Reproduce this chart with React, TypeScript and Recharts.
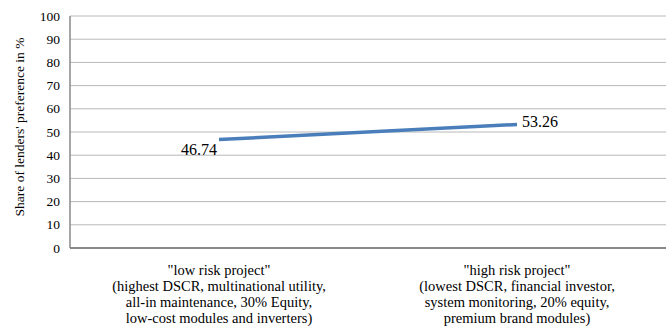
import React from 'react';
import { LineChart, Line, XAxis, YAxis, CartesianGrid, LabelList } from 'recharts';

const categories = ['low', 'high'];
const shares = [46.74, 53.26];
const categoryLines = [
  ['"low risk project"', '(highest DSCR, multinational utility,', 'all-in maintenance, 30% Equity,', 'low-cost modules and inverters)'],
  ['"high risk project"', '(lowest DSCR, financial investor,', 'system monitoring, 20% equity,', 'premium brand modules)'],
];
const yTicks = [0, 10, 20, 30, 40, 50, 60, 70, 80, 90, 100];
const yTitle = "Share of lenders' preference in %";

const data = categories.map((c, i) => ({ category: c, share: shares[i] }));

const FONT = "'Liberation Serif', 'Times New Roman', Times, serif";
const textStyle = { fontFamily: FONT };

const CategoryTick = (props: any) => {
  const { x, y, index } = props;
  const lines = categoryLines[index] || [];
  return (
    <text x={x} y={y} textAnchor="middle" style={textStyle} fontSize={14.5} fill="#000">
      {lines.map((l, i) => (
        <tspan key={i} x={x} y={y + 27 + i * 16}>{l}</tspan>
      ))}
    </text>
  );
};

const ValueLabel = (props: any) => {
  const { x, y, value, index } = props;
  if (index === 0) {
    return (
      <text x={x - 2} y={y + 15.5} textAnchor="end" style={textStyle} fontSize={16} fill="#000">
        {value}
      </text>
    );
  }
  return (
    <text x={x + 5} y={y + 3} textAnchor="start" style={textStyle} fontSize={16} fill="#000">
      {value}
    </text>
  );
};

const YTitle = (props: any) => {
  const { viewBox } = props;
  const cx = 21;
  const cy = viewBox.y + viewBox.height / 2 - 5;
  return (
    <text
      x={cx}
      y={cy}
      transform={`rotate(-90 ${cx} ${cy})`}
      textAnchor="middle"
      dominantBaseline="middle"
      style={textStyle}
      fontSize={13.5}
      fill="#000"
    >
      {yTitle}
    </text>
  );
};

const YTick = (props: any) => {
  const { x, y, payload } = props;
  return (
    <text x={x} y={y} textAnchor="end" dominantBaseline="central" style={textStyle} fontSize={13.5} fill="#000">
      {payload.value}
    </text>
  );
};

export default function App() {
  return (
    <div style={{ position: 'absolute', left: 0, top: 0, background: '#fff', fontFamily: FONT }}>
      <LineChart width={670} height={329} data={data} margin={{ top: 16, right: 4, bottom: 0, left: 0 }}>
        <CartesianGrid vertical={false} stroke="#b8b8b8" strokeWidth={1} />
        <XAxis
          dataKey="category"
          scale="band"
          tick={<CategoryTick />}
          tickLine={false}
          tickSize={0}
          tickMargin={0}
          axisLine={{ stroke: '#888', strokeWidth: 2 }}
          interval={0}
          height={81}
        />
        <YAxis
          domain={[0, 100]}
          ticks={yTicks}
          width={70}
          tickLine={false}
          tickSize={0}
          tickMargin={10}
          axisLine={{ stroke: '#888', strokeWidth: 1.5 }}
          tick={<YTick />}
          label={<YTitle />}
        />
        <Line
          type="linear"
          dataKey="share"
          stroke="#4a7ebb"
          strokeWidth={3.5}
          dot={false}
          isAnimationActive={false}
        >
          <LabelList dataKey="share" content={<ValueLabel />} />
        </Line>
      </LineChart>
    </div>
  );
}
